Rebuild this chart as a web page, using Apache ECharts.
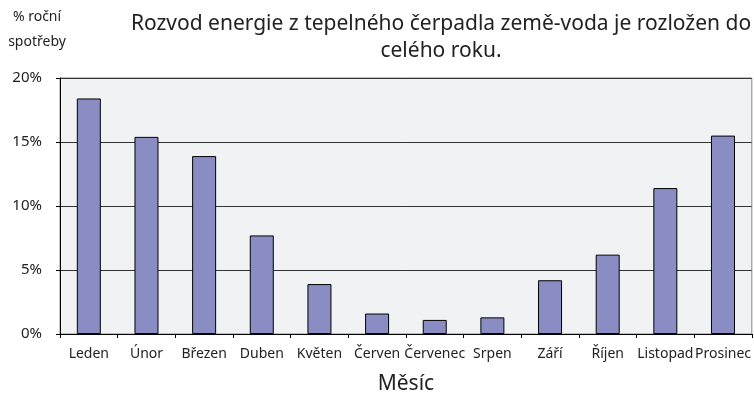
<!DOCTYPE html>
<html><head><meta charset="utf-8">
<script src="https://cdn.jsdelivr.net/npm/echarts@6/dist/echarts.min.js"></script>
<style>html,body{margin:0;padding:0;background:#fff}#c{width:754px;height:400px}</style>
</head><body><div id="c"></div>
<script>
const categories = ['Leden','Únor','Březen','Duben','Květen','Červen','Červenec','Srpen','Září','Říjen','Listopad','Prosinec'];
const values = [18.4, 15.4, 13.9, 7.7, 3.9, 1.6, 1.1, 1.3, 4.2, 6.2, 11.4, 15.5];
const titleText = 'Rozvod energie z tepelného čerpadla země-voda je rozložen do\ncelého roku.';
const yName = '% roční\nspotřeby';
const xName = 'Měsíc';
const font = 'Noto Sans';
const chart = echarts.init(document.getElementById('c'));
chart.setOption({
  backgroundColor: '#fff',
  animation: false,
  title: {
    text: titleText, left: 436, top: 6, textAlign: 'center',
    textStyle: { fontFamily: font, fontSize: 21, fontWeight: 'normal', color: '#222', lineHeight: 27, align: 'center' }
  },
  graphic: [{
    type: 'text', x: 37, y: 5,
    style: { text: yName, fontFamily: font, fontSize: 14, fill: '#222', align: 'center', lineHeight: 25 }
  }],
  grid: { left: 60, right: 2, top: 78, bottom: 64, show: true, backgroundColor: '#f1f2f4', borderColor: '#888', borderWidth: 1 },
  xAxis: {
    type: 'category', data: categories,
    name: xName, nameLocation: 'middle', nameGap: 40,
    nameTextStyle: { fontFamily: font, fontSize: 21, color: '#222' },
    axisLine: { lineStyle: { color: '#000', width: 1 } },
    axisTick: { show: true, length: 4, lineStyle: { color: '#000' } },
    axisLabel: { fontFamily: font, fontSize: 14, color: '#222', margin: 13, interval: 0 }
  },
  yAxis: {
    type: 'value', min: 0, max: 20, interval: 5,
    axisLine: { show: true, lineStyle: { color: '#000', width: 1 } },
    axisTick: { show: true, length: 4, lineStyle: { color: '#000' } },
    axisLabel: { fontFamily: font, fontSize: 15, color: '#222', margin: 18, formatter: '{value}%' },
    splitLine: { lineStyle: { color: '#333', width: 1 } }
  },
  series: [{
    type: 'bar', data: values, barWidth: 24,
    itemStyle: { color: '#8a8dc4', borderColor: '#000', borderWidth: 1 }
  }]
});
</script></body></html>
